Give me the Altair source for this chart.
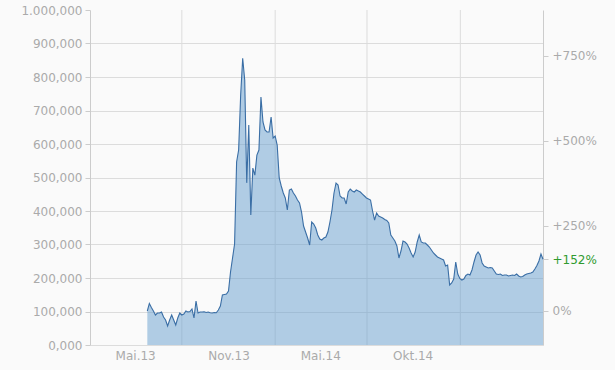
import altair as alt
import pandas as pd

# ---- data ----
start_date = "2013-05-25"
step_days = 4
values = [
    101500, 124000, 112000, 101500, 89600, 95500, 95500, 98500, 83600, 74600,
    56700, 74600, 89600, 74600, 59700, 80600, 95500, 89600, 92500, 101500,
    98500, 100000, 107500, 80600, 131300, 95500, 98500, 98500, 99400, 97000,
    98500, 96400, 95500, 97000, 96400, 104500, 116400, 149300, 150700, 152200,
    161200, 217900, 259700, 301500, 546300, 582000, 746000, 855800, 791000, 484000,
    656700, 388000, 528000, 507000, 567000, 582000, 740000, 665700, 641800, 635800,
    635800, 680600, 617900, 623900, 597000, 498500, 474600, 453700, 438800, 403000,
    462700, 465700, 453700, 444800, 432800, 423900, 397000, 355200, 337300, 319400,
    298500, 367200, 361200, 349200, 328400, 316400, 313400, 319400, 322400, 337300,
    367200, 403000, 453700, 483600, 477600, 444800, 438800, 438800, 420900, 456700,
    465700, 459700, 456700, 462700, 459700, 456700, 450700, 444800, 438800, 435800,
    432800, 400000, 373100, 394000, 385100, 382100, 379100, 374600, 371600, 364200,
    328400, 319400, 310400, 295500, 259700, 280600, 310400, 307500, 301500, 289500,
    274600, 262700, 277600, 307500, 328400, 307500, 304500, 304500, 298500, 292500,
    283600, 274600, 268700, 262700, 259700, 256700, 253700, 235800, 238800, 179100,
    185100, 197000, 247800, 211900, 198500, 194000, 197000, 207500, 211900, 209000,
    223900, 247800, 268700, 277600, 268700, 244800, 235800, 232800, 229800, 231300,
    229800, 220900, 211900, 210400, 211900, 207500, 209000, 209000, 206000, 207500,
    209000, 207500, 211900, 206000, 203000, 204500, 209000, 211900, 213400, 214900,
    217900, 226900, 237300, 250700, 271600, 255800,
]
dates = pd.date_range(start_date, periods=len(values), freq=f"{step_days}D").strftime("%Y-%m-%d")

y_ticks = [0, 100000, 200000, 300000, 400000, 500000, 600000, 700000, 800000, 900000, 1000000]
pct_ticks = [0, 250, 500, 750]
x_grid_dates = ["2013-08-01", "2014-02-01", "2014-08-01", "2015-02-01"]
x_label_dates = [(2013, 5, 1), (2013, 11, 1), (2014, 5, 1), (2014, 10, 30)]
x_label_texts = ["Mai.13", "Nov.13", "Mai.14", "Okt.14"]
x_domain = [(2013, 2, 1), (2015, 7, 14)]

base_value = values[0]
current_pct = round((values[-1] / base_value - 1) * 100)
pct_max = (1000000 / base_value - 1) * 100

df = pd.DataFrame({"date": dates, "value": values})
df["pct"] = (df["value"] / base_value - 1) * 100

FONT = "DejaVu Sans"
GRAY = "#aaaaaa"
GRID = "#dcdcdc"
AXIS = "#cccccc"


def dt(t):
    return alt.DateTime(year=t[0], month=t[1], date=t[2])


label_expr = "''"
for t, txt in reversed(list(zip(x_label_dates, x_label_texts))):
    key = f"{t[0]:04d}-{t[1]:02d}-{t[2]:02d}"
    label_expr = f"timeFormat(datum.value, '%Y-%m-%d') == '{key}' ? '{txt}' : ({label_expr})"

x_scale = alt.Scale(domain=[dt(x_domain[0]), dt(x_domain[1])])
x_axis = alt.Axis(
    values=[dt(t) for t in x_label_dates],
    labelExpr=label_expr,
    grid=False, ticks=False, domain=False,
    labelColor=GRAY, labelFont=FONT, labelFontSize=12, labelPadding=5,
    title=None, labelOverlap=False,
)

y_axis = alt.Axis(
    values=y_ticks,
    labelExpr="datum.value == 1000000 ? '1.000,000' : datum.value == 0 ? '0,000' : format(datum.value, ',')",
    grid=True,
    gridColor={"condition": {"test": "datum.value >= 1000000", "value": "transparent"}, "value": GRID},
    domainColor=AXIS, tickColor=AXIS, tickSize=5,
    labelColor=GRAY, labelFont=FONT, labelFontSize=12, labelPadding=3,
    title=None,
)

pct_axis = alt.Axis(
    orient="right",
    values=pct_ticks + [current_pct],
    labelExpr="(datum.value > 0 ? '+' : '') + format(datum.value, 'd') + '%'",
    grid=False,
    domainColor=AXIS, tickColor=AXIS, tickSize=5,
    labelColor={"condition": {"test": f"datum.value == {current_pct}", "value": "#2f9a2f"}, "value": GRAY},
    labelFont=FONT, labelFontSize=12, labelPadding=4,
    title=None,
)

rules = alt.Chart(pd.DataFrame({"date": x_grid_dates})).mark_rule(
    color=GRID, strokeWidth=1
).encode(x=alt.X("date:T", scale=x_scale, axis=x_axis))

area = alt.Chart(df).mark_area(color="#669ece", opacity=0.5).encode(
    x=alt.X("date:T", scale=x_scale, axis=x_axis),
    y=alt.Y("value:Q", scale=alt.Scale(domain=[0, 1000000], nice=False), axis=y_axis),
)

line = alt.Chart(df).mark_line(color="#3a6ea5", strokeWidth=1.1).encode(
    x=alt.X("date:T", scale=x_scale, axis=x_axis),
    y=alt.Y("value:Q", scale=alt.Scale(domain=[0, 1000000], nice=False), axis=y_axis),
)

right = alt.Chart(df).mark_line(opacity=0).encode(
    x=alt.X("date:T", scale=x_scale, axis=x_axis),
    y=alt.Y("pct:Q", scale=alt.Scale(domain=[-100, pct_max], nice=False, zero=False), axis=pct_axis),
)

chart = (
    alt.layer(alt.layer(rules, area, line), right)
    .resolve_scale(y="independent")
    .properties(
        width=453, height=335,
        autosize="none",
        padding={"left": 90, "top": 10, "right": 72, "bottom": 25},
        background="#fafafa",
    )
    .configure_view(strokeWidth=0)
)

chart.save("out.html", embed_options={"renderer": "svg", "actions": False})
